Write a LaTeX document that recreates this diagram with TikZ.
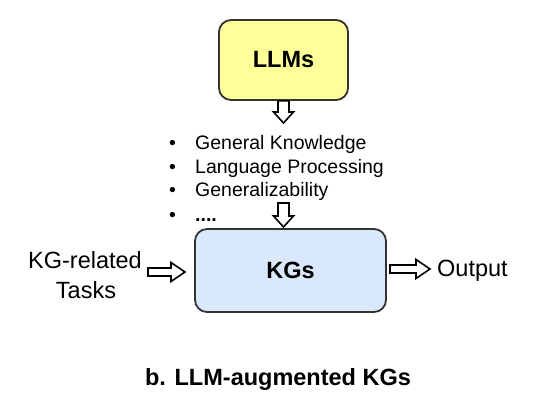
\documentclass[tikz,border=0pt]{standalone}
\usepackage{fontspec}
\setmainfont{Liberation Sans}
\usetikzlibrary{calc}
\definecolor{llmfill}{HTML}{FFFF99}
\definecolor{kgfill}{HTML}{DAE8FC}
\definecolor{boxline}{HTML}{333333}
\newcommand\blkdown[2]{\draw[blk] ($(#1)+(-5.5,0)$) -- ($(#2)+(-5.5,-11)$) -- ($(#2)+(-10,-11)$) -- (#2) -- ($(#2)+(10,-11)$) -- ($(#2)+(5.5,-11)$) -- ($(#1)+(5.5,0)$) -- cycle;}
\newcommand\blkright[2]{\draw[blk] ($(#1)+(0,-4)$) -- ($(#2)+(-14,-4)$) -- ($(#2)+(-14,-9.5)$) -- (#2) -- ($(#2)+(-14,9.5)$) -- ($(#2)+(-14,4)$) -- ($(#1)+(0,4)$) -- cycle;}
\begin{document}
\begin{tikzpicture}[x=1pt,y=-1pt,
  box/.style={draw=boxline, line width=1.8pt, rounded corners=12pt, inner sep=0pt},
  blk/.style={draw=black, fill=white, line width=1.6pt, line join=miter},
  big/.style={font=\fontsize{23.5}{28}\selectfont},
  bigb/.style={font=\fontsize{23.5}{28}\selectfont\bfseries},
  item/.style={font=\fontsize{19.5}{23}\selectfont, anchor=base west, inner sep=0pt}]
\useasboundingbox (0,0) rectangle (542,408);
% boxes
\node[box, fill=llmfill, minimum width=129pt, minimum height=80pt, bigb] (llm) at (283.5,60) {LLMs};
\node[box, fill=kgfill, minimum width=191pt, minimum height=83pt, bigb] (kg) at (290.5,270.5) {KGs};
% bullet list
\node[item] (b1) at (169,149) {\makebox[26pt][l]{\textbullet}General Knowledge};
\node[item] (b2) at (169,173) {\makebox[26pt][l]{\textbullet}Language Processing};
\node[item] (b3) at (169,196.5) {\makebox[26pt][l]{\textbullet}Generalizability};
\node[item] (b4) at (169,221) {\makebox[26pt][l]{\textbullet}\textbf{....}};
% side texts
\node[big, anchor=base, inner sep=0pt] (kgrel) at (85,268) {KG-related};
\node[big, anchor=base, inner sep=0pt] (tasks) at (86,298) {Tasks};
\node[big, anchor=base west, inner sep=0pt] (out) at (437,276) {Output};
\node[bigb, anchor=base, inner sep=0pt] (title) at (278,385) {b. LLM-augmented KGs};
% arrow end points
\coordinate (a1e) at (283.5,123);
\coordinate (a2s) at (283.5,203);
\coordinate (a2e) at (283.5,227);
\coordinate (a3s) at (148,272);
\coordinate (a3e) at (185,272);
\coordinate (a4s) at (390,269);
\coordinate (a4e) at (430,269);
% arrows
\blkdown{llm.south}{a1e}
\blkdown{a2s}{a2e}
\blkright{a3s}{a3e}
\blkright{a4s}{a4e}
\end{tikzpicture}
\end{document}
